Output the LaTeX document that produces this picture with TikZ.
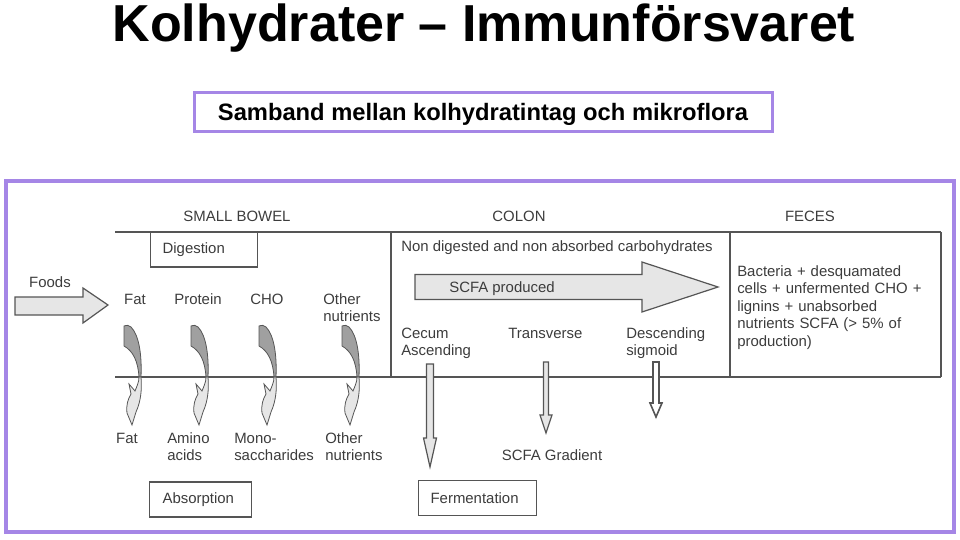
\documentclass[tikz,border=0pt]{standalone}
\usepackage{fontspec}
\setmainfont{Liberation Sans}
\definecolor{framec}{HTML}{A586E6}
\definecolor{txt}{HTML}{3C3C3C}
\definecolor{ln}{HTML}{555555}
\definecolor{lightfill}{HTML}{E6E6E6}
\definecolor{darkfill}{HTML}{A0A0A0}
\tikzset{
  lbl/.style={inner sep=0pt, text=txt, font=\fontsize{11.2}{13.1}\selectfont},
  lblb/.style={lbl, anchor=base},
  lblw/.style={lbl, anchor=base west},
  mline/.style={lblw, text width=150pt, align=left},
  stagebox/.style={draw=ln, line width=0.9pt, anchor=west, inner xsep=9pt, inner ysep=0pt,
    minimum height=26.25pt, align=left, text=txt, font=\fontsize{11.2}{13.1}\selectfont},
  tableline/.style={draw=ln, line width=0.9pt},
  blockarrow/.style={draw=ln, line width=0.9pt, fill=lightfill, line join=miter},
  curly/.pic={
    \filldraw[darkfill, draw=ln, line width=0.6pt] (-16,-51) .. controls (-12,-52) .. (-9,-50)
      .. controls (-1,-42) and (2,-22) .. (1,0) -- (-1,0)
      .. controls (-2,-16) and (-7,-26) .. (-16,-31) -- cycle;
    \filldraw[lightfill, draw=ln, line width=0.6pt] (1,0) .. controls (2,12) and (1,24) .. (-4,35)
      -- (-8,48) -- (-13,36) .. controls (-14,28) and (-12,22) .. (-9,17)
      -- (-11,7) -- (-5,14) .. controls (-3,9) and (-1,5) .. (-1,0) -- cycle;
  }
}
\begin{document}
\begin{tikzpicture}[x=0.75pt,y=-0.75pt]
\useasboundingbox (0,0) rectangle (960,539);
% title
\node[anchor=base, inner sep=0pt, font=\bfseries\fontsize{39}{42}\selectfont] (title) at (484,41.5) {Kolhydrater – Immunförsvaret};
\draw[framec, line width=2.25pt] (194,92) rectangle (772,131);
\node[anchor=base, inner sep=0pt, font=\bfseries\fontsize{17.8}{20}\selectfont] (sub) at (483,120) {Samband mellan kolhydratintag och mikroflora};
% frame
\draw[framec, line width=3pt] (6,181) rectangle (954,532);
% table lines
\draw[tableline] (115,232) -- (941,232);
\draw[tableline] (115,377) -- (941,377);
\draw[tableline] (391,232) -- (391,377);
\draw[tableline] (730,232) -- (730,377);
\draw[tableline] (941,232) -- (941,377);
% headers
\node[lblb] (hsb) at (237,221.3) {SMALL BOWEL};
\node[lblb] (hcol) at (519,221.3) {COLON};
\node[lblb] (hfec) at (810,221.3) {FECES};
% boxes
\node[stagebox, text width=62.25pt] (dig) at (150,249.5) {Digestion};
\node[stagebox, text width=57pt, inner xsep=9.75pt] (abs) at (149,499.5) {Absorption};
\node[stagebox, text width=70.5pt] (fer) at (418,498) {Fermentation};
% foods
\node[lblb] (foods) at (50,287.3) {Foods};
\draw[blockarrow] (15,297) -- (83,297) -- (83,288) -- (108,305) -- (83,323) -- (83,315) -- (15,315) -- cycle;
% nutrients
\node[lblb] (fat) at (135,304.3) {Fat};
\node[lblb] (prot) at (198,304.3) {Protein};
\node[lblb] (cho) at (267,304.3) {CHO};
\node[mline] (oth) at (323,304.3) {Other\\nutrients};
\pic at (140,377) {curly};
\pic at (207,377) {curly};
\pic at (275,377) {curly};
\pic at (358,377) {curly};
\node[lblb] (fat2) at (127,443.3) {Fat};
\node[mline] (amino) at (167,443.3) {Amino\\acids};
\node[mline] (mono) at (234,443.3) {Mono-\\saccharides};
\node[mline] (oth2) at (325,443.3) {Other\\nutrients};
% colon
\node[lblw] (nondig) at (401,251.3) {Non digested and non absorbed carbohydrates};
\draw[blockarrow] (415,274.5) -- (642,274.5) -- (642,262) -- (718,287) -- (642,312) -- (642,299.5) -- (415,299.5) -- cycle;
\node[lblb] (scfa) at (502,292.3) {SCFA produced};
\node[mline] (cecum) at (401,338.3) {Cecum\\Ascending};
\node[lblw] (trans) at (508,338.3) {Transverse};
\node[mline] (desc) at (626,338.3) {Descending\\sigmoid};
\draw[blockarrow] (426.5,364) -- (433.5,364) -- (433.5,438) -- (436.5,438) -- (430,467) -- (423.5,438) -- (426.5,438) -- cycle;
\draw[blockarrow] (543.5,362) -- (548.5,362) -- (548.5,415) -- (552,415) -- (546,433) -- (540,415) -- (543.5,415) -- cycle;
\draw[blockarrow, fill=white, line width=1.2pt] (653,362) -- (659,362) -- (659,403) -- (662,403) -- (656,417) -- (650,403) -- (653,403) -- cycle;
\node[lblb] (grad) at (552,460.3) {SCFA Gradient};
% feces
\node[mline] (fectext) at (737,276.3) {Bacteria + desquamated\\cells + unfermented CHO +\\lignins + unabsorbed\\nutrients SCFA (> 5\% of\\production)};
\end{tikzpicture}
\end{document}
